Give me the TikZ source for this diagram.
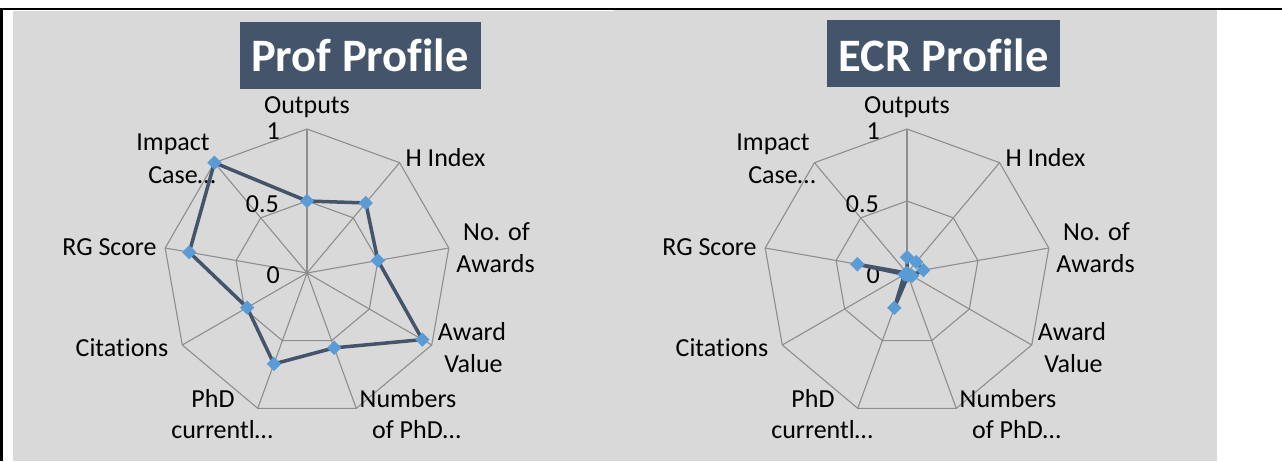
\documentclass[tikz,border=0pt]{standalone}
\usepackage{fontspec}
\setmainfont{Carlito}[Ligatures=NoCommon]
\usetikzlibrary{shapes.geometric}
\definecolor{panelgray}{HTML}{D9D9D9}
\definecolor{slate}{HTML}{44546A}
\definecolor{markblue}{HTML}{5B9BD5}
\definecolor{gridgray}{HTML}{8E8E8E}
\tikzset{
 lbl/.style={font=\fontsize{26}{31}\selectfont, inner sep=0, anchor=base, text=black},
 ticklbl/.style={font=\fontsize{26}{31}\selectfont, inner sep=0, anchor=east, text=black},
 titlebox/.style={fill=slate, minimum width=#1, minimum height=67, inner sep=0},
 titletext/.style={font=\fontsize{46.5}{56}\selectfont\bfseries, text=white, inner sep=0, anchor=base},
 gridline/.style={draw=gridgray, line width=1.1},
 dataline/.style={draw=slate, line width=3.5, line join=round},
 datamark/.style={diamond, fill=markblue, inner sep=0, minimum width=14.5, minimum height=14.5},
}
\newcommand\radargrid[1]{%
 \begin{scope}[shift={(#1,273)}]
  \draw[gridline] (-90:144) \foreach \k in {1,...,8}{ -- ({-90+40*\k}:144)} -- cycle;
  \draw[gridline] (-90:72) \foreach \k in {1,...,8}{ -- ({-90+40*\k}:72)} -- cycle;
  \foreach \k in {0,...,8}{ \draw[gridline] (0,0) -- ({-90+40*\k}:144); }
 \end{scope}}
\newcommand\radardata[3]{%
 \begin{scope}[shift={(#2,273)}]
  \foreach \v [count=\i from 0] in {#3}{ \coordinate (#1\i) at ({-90+40*\i}:{144*\v}); }
 \end{scope}
 \draw[dataline] (#10) -- (#11) -- (#12) -- (#13) -- (#14) -- (#15) -- (#16) -- (#17) -- (#18) -- cycle;
 \foreach \i in {0,...,8}{ \node[datamark] (#1m\i) at (#1\i) {}; }}
\newcommand\radarlabels[2]{%
 \begin{scope}[xshift=#2]
  \node[lbl] (#1out) at (307,113) {Outputs};
  \node[lbl] (#1hin) at (445.5,166) {H Index};
  \node[lbl] (#1noa) at (496.5,240) {No. of};
  \node[lbl] (#1nob) at (495.5,272) {Awards};
  \node[lbl] (#1ava) at (472,340.7) {Award};
  \node[lbl] (#1avb) at (473.5,372.7) {Value};
  \node[lbl] (#1npa) at (408,407.7) {Numbers};
  \node[lbl] (#1npb) at (416.5,438.3) {of PhD…};
  \node[lbl] (#1pca) at (213,407.7) {PhD};
  \node[lbl] (#1pcb) at (222,438.3) {currentl…};
  \node[lbl] (#1cit) at (122,356.7) {Citations};
  \node[lbl] (#1rgs) at (109.5,255) {RG Score};
  \node[lbl] (#1ica) at (173,150) {Impact};
  \node[lbl] (#1icb) at (182,183) {Case…};
  \node[ticklbl] (#1t1) at (280,131) {1};
  \node[ticklbl] (#1t5) at (279,204) {0.5};
  \node[ticklbl] (#1t0) at (280,275) {0};
 \end{scope}}
\begin{document}
\begin{tikzpicture}[x=1pt,y=-1pt]
\useasboundingbox (0,0) rectangle (1282,461);
\fill[white] (0,0) rectangle (1282,461);
\fill[panelgray] (13,11) rectangle (614,461);
\fill[panelgray] (614,9.5) rectangle (1217,461);
\draw[line width=2.4] (0,9.2) -- (614,9.2);
\draw[line width=1.6] (614,8.8) -- (1282,8.8);
\draw[line width=2.5] (1.5,8) -- (1.5,461);
% titles
\node[titlebox=241] (tbP) at (360.5,55.4) {};
\node[titletext] (ttP) at (360,71.7) {Prof Profile};
\node[titlebox=233] (tbE) at (943.5,53.4) {};
\node[titletext] (ttE) at (943.5,71.7) {ECR Profile};
% charts
\radargrid{307}
\radargrid{907}
\radarlabels{P}{0}
\radarlabels{E}{600}
\radardata{P}{307}{0.5,0.635,0.5,0.925,0.553,0.672,0.48,0.83,1.0}
\radardata{E}{907}{0.11,0.1,0.115,0.04,0.02,0.257,0.02,0.35,0.0}
\end{tikzpicture}
\end{document}
